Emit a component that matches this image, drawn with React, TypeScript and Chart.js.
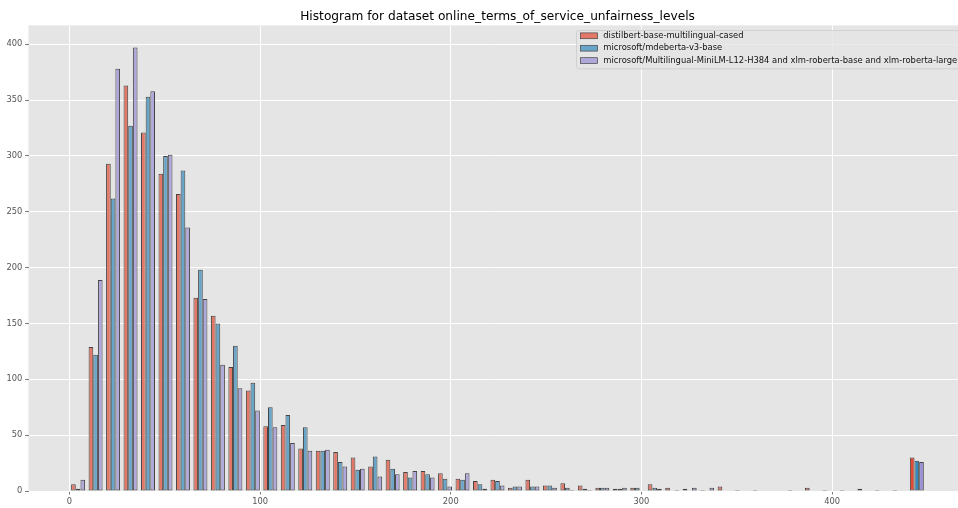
import React, { useEffect, useRef } from 'react';
import { Chart, registerables } from 'chart.js';

Chart.register(...registerables);

const TITLE = 'Histogram for dataset online_terms_of_service_unfairness_levels';
const SERIES_NAMES = [
  'distilbert-base-multilingual-cased',
  'microsoft/mdeberta-v3-base',
  'microsoft/Multilingual-MiniLM-L12-H384 and xlm-roberta-base and xlm-roberta-large',
];

// histogram binning (edges)
const BIN_MIN = 0;
const BIN_MAX = 449;
const BIN_COUNT = 49;

// counts per bin
const distilbert = [
  6, 129, 293, 363, 321, 284, 266, 173, 157, 111,
  90, 58, 59, 38, 36, 35, 30, 22, 28, 17,
  18, 16, 11, 9, 10, 3, 10, 5, 7, 5,
  3, 2, 3, 6, 3, 2, 1, 4, 1, 1,
  0, 1, 3, 1, 1, 2, 1, 1, 30,
];
const mdeberta = [
  2, 122, 262, 327, 353, 300, 287, 198, 150, 130,
  97, 75, 68, 57, 36, 26, 19, 31, 20, 12,
  15, 11, 10, 6, 9, 4, 4, 5, 3, 2,
  3, 2, 3, 3, 0, 0, 0, 0, 0, 0,
  0, 0, 0, 0, 0, 0, 0, 0, 27,
];
const multilingual = [
  10, 189, 378, 397, 358, 301, 236, 172, 113, 92,
  72, 57, 43, 36, 37, 22, 20, 13, 15, 18,
  12, 4, 16, 2, 5, 4, 4, 3, 1, 1,
  3, 3, 0, 2, 1, 3, 3, 0, 0, 0,
  0, 0, 0, 0, 0, 0, 0, 0, 26,
];

const X_TICKS = [0, 100, 200, 300, 400];
const Y_TICKS = [0, 50, 100, 150, 200, 250, 300, 350, 400];

const FACE = ['#e37868', '#69a5c9', '#afa8da'];
const FACE_LAST = ['#e24a33', '#348abd', '#988ed5'];
const EDGE = '#444444';
const FONT = '"DejaVu Sans", sans-serif';

const X_MIN = -21.44;
const X_AXIS_RIGHT = 470.5;
const X_MAX = 466.0;
const Y_MAX = 416.9;

export default function App() {
  const ref = useRef<HTMLCanvasElement | null>(null);

  useEffect(() => {
    const canvas = ref.current;
    if (!canvas) return;
    const w = (BIN_MAX - BIN_MIN) / BIN_COUNT;
    const centers = Array.from({ length: BIN_COUNT }, (_, i) => BIN_MIN + w * (i + 0.5));
    const seriesList = [distilbert, mdeberta, multilingual];

    const bgPlugin = {
      id: 'bgPlugin',
      beforeDraw(chart: any) {
        const { ctx, chartArea: a } = chart;
        ctx.save();
        ctx.fillStyle = '#e5e5e5';
        ctx.fillRect(a.left, a.top, a.right - a.left, a.bottom - a.top);
        ctx.restore();
      },
    };

    const overlayPlugin = {
      id: 'overlayPlugin',
      afterDraw(chart: any) {
        const { ctx, chartArea: a } = chart;
        const xs = chart.scales.x;
        ctx.save();
        // title
        const axRight = xs.getPixelForValue(X_AXIS_RIGHT);
        ctx.fillStyle = '#000';
        ctx.font = `12.2px ${FONT}`;
        ctx.textAlign = 'center';
        ctx.textBaseline = 'alphabetic';
        ctx.fillText(TITLE, (a.left + axRight) / 2, 20);
        // legend
        const boxL = 576, boxT = 30, boxB = 68.3, boxR = 980;
        ctx.beginPath();
        (ctx as any).roundRect(boxL + 0.5, boxT + 0.5, boxR - boxL, boxB - boxT, 2.5);
        ctx.fillStyle = 'rgba(229,229,229,0.8)';
        ctx.fill();
        ctx.strokeStyle = '#cccccc';
        ctx.lineWidth = 0.8;
        ctx.stroke();
        const rows = [35.8, 48.2, 60.6];
        ctx.font = `8.4px ${FONT}`;
        ctx.textAlign = 'left';
        ctx.textBaseline = 'middle';
        SERIES_NAMES.forEach((name, i) => {
          const y = rows[i];
          ctx.fillStyle = FACE[i];
          ctx.fillRect(580.5, y - 2.9, 17, 5.8);
          ctx.strokeStyle = EDGE;
          ctx.lineWidth = 0.7;
          ctx.strokeRect(580.5, y - 2.9, 17, 5.8);
          ctx.fillStyle = '#111';
          ctx.fillText(name, 603.3, y);
        });
        ctx.restore();
      },
    };

    const chart = new Chart(canvas, {
      type: 'bar',
      data: {
        datasets: seriesList.map((vals, si) => ({
          label: SERIES_NAMES[si],
          data: centers.map((c, i) => ({ x: c, y: vals[i] })),
          backgroundColor: vals.map((_, i) => (i === vals.length - 1 ? FACE_LAST[si] : FACE[si])),
          borderColor: EDGE,
          borderWidth: 1,
          borderSkipped: false,
          barPercentage: 1.0,
          categoryPercentage: 0.8,
        })),
      },
      options: {
        animation: false,
        responsive: false,
        devicePixelRatio: 1,
        layout: { padding: { top: 25.4, left: 0, right: 0, bottom: 0 } },
        plugins: {
          legend: { display: false },
          title: { display: false },
          tooltip: { enabled: false },
        },
        scales: {
          x: {
            type: 'linear',
            min: X_MIN,
            max: X_MAX,
            offset: false,
            afterBuildTicks: (s: any) => { s.ticks = X_TICKS.map((v) => ({ value: v })); },
            afterFit: (s: any) => { s.height = 17; },
            grid: {
              offset: false,
              color: '#ffffff',
              lineWidth: 1,
              drawTicks: true,
              tickLength: 3.5,
              tickColor: '#555555',
              tickWidth: 0.8,
            },
            border: { display: false },
            ticks: {
              color: '#555555',
              font: { family: FONT, size: 8.3 },
              padding: 2,
              maxRotation: 0,
              autoSkip: false,
            },
          },
          y: {
            type: 'linear',
            min: 0,
            max: Y_MAX,
            afterBuildTicks: (s: any) => { s.ticks = Y_TICKS.map((v) => ({ value: v })); },
            afterFit: (s: any) => { s.width = 28.5; },
            grid: {
              color: '#ffffff',
              lineWidth: 1,
              drawTicks: true,
              tickLength: 3.5,
              tickColor: '#555555',
              tickWidth: 0.8,
            },
            border: { display: false },
            ticks: {
              color: '#555555',
              font: { family: FONT, size: 8.3 },
              padding: 2.7,
              autoSkip: false,
            },
          },
        },
      },
      plugins: [bgPlugin, overlayPlugin],
    } as any);

    return () => chart.destroy();
  }, []);

  return (
    <div style={{ position: 'fixed', left: 0, top: 0, width: 958, height: 508, background: '#fff' }}>
      <canvas ref={ref} width={958} height={508} style={{ width: 958, height: 508, display: 'block' }} />
    </div>
  );
}
